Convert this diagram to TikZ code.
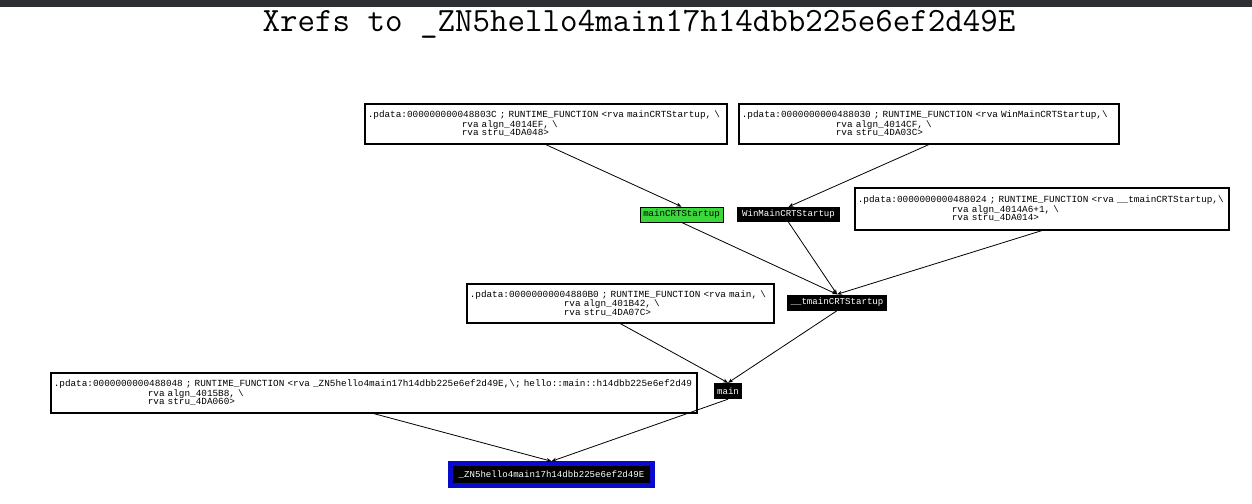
\documentclass[tikz,border=0pt]{standalone}
\usepackage{fontspec}
\usetikzlibrary{arrows.meta}
\newfontfamily\monof{Liberation Mono}
\definecolor{topbar}{RGB}{45,47,50}
\definecolor{nodegreen}{RGB}{60,215,60}
\definecolor{nodeblue}{RGB}{10,10,205}
\begin{document}
\begin{tikzpicture}[x=1pt,y=-1pt,
  infobox/.style={draw=black,line width=1.6pt,fill=white,
    font=\monof\fontsize{9.35}{8.6}\selectfont,align=left,
    inner xsep=3pt,inner ysep=0pt,anchor=north west},
  funcnode/.style={fill=black,text=white,font=\monof\fontsize{9.1}{9}\selectfont,
    inner xsep=2pt,inner ysep=1pt,minimum height=16pt},
  startnode/.style={funcnode,fill=nodegreen,draw=black,line width=0.8pt,text=black},
  targetnode/.style={fill=black,draw=nodeblue,line width=4.5pt,text=white,
    font=\monof\fontsize{9.1}{9}\selectfont,minimum width=202pt,minimum height=22pt},
  edge/.style={draw=black,line width=0.8pt,-{Stealth[length=5pt,width=4pt]}}
]
\useasboundingbox (0,0) rectangle (1252,503);
\fill[white] (0,0) rectangle (1252,503);
\fill[topbar] (0,0) rectangle (1252,7);

\node[font=\ttfamily\fontsize{34}{35}\selectfont,inner sep=0pt] (title) at (639,24)
  {Xrefs to \_ZN5hello4main17h14dbb225e6ef2d49E};

\newcommand{\ind}{\hspace*{94pt}}

\node[infobox,text width=356pt,minimum height=40pt] (pA) at (364,103)
  {.pdata:000000000048803C ; RUNTIME\_FUNCTION <rva mainCRTStartup, \textbackslash\\
   \ind rva algn\_4014EF, \textbackslash\\
   \ind rva stru\_4DA048>};
\node[infobox,text width=374pt,minimum height=40pt] (pB) at (738,103)
  {.pdata:0000000000488030 ; RUNTIME\_FUNCTION <rva WinMainCRTStartup,\textbackslash\\
   \ind rva algn\_4014CF, \textbackslash\\
   \ind rva stru\_4DA03C>};
\node[infobox,text width=368pt,minimum height=42pt] (pC) at (854,187)
  {.pdata:0000000000488024 ; RUNTIME\_FUNCTION <rva \_\_tmainCRTStartup,\textbackslash\\
   \ind rva algn\_4014A6+1, \textbackslash\\
   \ind rva stru\_4DA014>};
\node[infobox,text width=301pt,minimum height=39pt] (pD) at (466,283)
  {.pdata:00000000004880B0 ; RUNTIME\_FUNCTION <rva main, \textbackslash\\
   \ind rva algn\_401B42, \textbackslash\\
   \ind rva stru\_4DA07C>};
\node[infobox,text width=640pt,minimum height=40pt] (pE) at (50,372)
  {.pdata:0000000000488048 ; RUNTIME\_FUNCTION <rva \_ZN5hello4main17h14dbb225e6ef2d49E,\textbackslash; hello::main::h14dbb225e6ef2d49\\
   \ind rva algn\_4015B8, \textbackslash\\
   \ind rva stru\_4DA060>};

\node[startnode,minimum width=83pt,minimum height=15pt] (mcrt) at (681.5,214.5) {mainCRTStartup};
\node[funcnode,minimum width=103pt,minimum height=15pt] (wcrt) at (788.5,214.5) {WinMainCRTStartup};
\node[funcnode,minimum width=100pt] (tcrt) at (837,302.5) {\_\_tmainCRTStartup};
\node[funcnode,minimum width=28pt] (mainf) at (728,391) {main};
\node[targetnode] (target) at (551.5,474.5) {\_ZN5hello4main17h14dbb225e6ef2d49E};

\draw[edge] (pA.south) -- (mcrt.north);
\draw[edge] (pB.south) -- (wcrt.north);
\draw[edge] (mcrt.south) -- (tcrt.north);
\draw[edge] (wcrt.south) -- (tcrt.north);
\draw[edge] (pC.south) -- (tcrt.north);
\draw[edge] (tcrt.south) -- (mainf.north);
\draw[edge] (pD.south) -- (mainf.north);
\draw[edge] (mainf.south) -- (target.north);
\draw[edge] (pE.south) -- (target.north);
\end{tikzpicture}
\end{document}
